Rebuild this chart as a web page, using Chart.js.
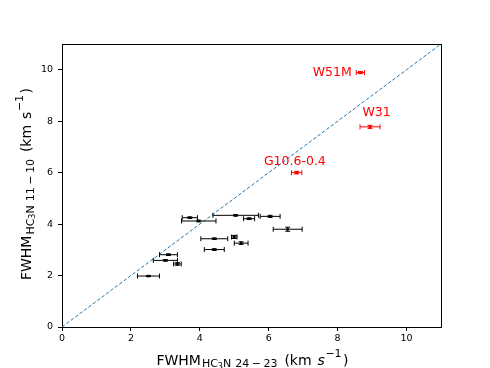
<!DOCTYPE html>
<html><head><meta charset="utf-8">
<script src="https://cdn.jsdelivr.net/npm/chart.js@4"></script>
<style>html,body{margin:0;padding:0;background:#fff}#wrap{width:490px;height:368px;position:relative}</style>
</head><body><div id="wrap"><canvas id="c" width="490" height="368"></canvas></div>
<script>
// Black sources
const xBlack = [3.71, 3.97, 5.04, 5.43, 6.04, 6.55, 4.42, 5.00, 5.20, 4.42, 3.09, 3.00, 3.35, 2.51];
const yBlack = [4.25, 4.12, 4.34, 4.21, 4.30, 3.80, 3.43, 3.50, 3.26, 3.01, 2.81, 2.59, 2.45, 1.98];
const xErrBlack = [0.22, 0.50, 0.66, 0.16, 0.29, 0.42, 0.39, 0.08, 0.20, 0.29, 0.26, 0.35, 0.11, 0.32];
const yErrBlack = [0.03, 0.03, 0.03, 0.03, 0.04, 0.08, 0.03, 0.06, 0.05, 0.03, 0.03, 0.03, 0.05, 0.02];
// Red (named) sources
const redNames = ['W51M', 'W31', 'G10.6-0.4'];
const xRed = [8.66, 8.94, 6.81];
const yRed = [9.89, 7.78, 6.00];
const xErrRed = [0.12, 0.29, 0.15];
const yErrRed = [0.04, 0.06, 0.05];
// label anchor points (data coords) and alignment
const labelX = [8.41, 8.72, 5.86];
const labelY = [9.76, 8.19, 6.28];
const labelAlign = ['right', 'left', 'left'];
// one-to-one line
const lineX = [0, 11];
const ticks = [0, 2, 4, 6, 8, 10];

const FONT = "'DejaVu Sans', sans-serif";

const blackData = xBlack.map((x, i) => ({x, y: yBlack[i], xe: xErrBlack[i], ye: yErrBlack[i]}));
const redData = xRed.map((x, i) => ({x, y: yRed[i], xe: xErrRed[i], ye: yErrRed[i]}));

function drawRich(ctx, parts, cx, cy, rot) {
  // parts: [text, sizePx, dyPx, italic, gapBefore]
  ctx.save();
  ctx.translate(cx, cy);
  if (rot) ctx.rotate(rot);
  let total = 0;
  parts.forEach(p => { ctx.font = (p[3] ? 'italic ' : '') + p[1] + 'px ' + FONT; total += ctx.measureText(p[0]).width + (p[4] || 0); });
  let x = -total / 2;
  ctx.fillStyle = '#000';
  ctx.textBaseline = 'alphabetic';
  ctx.textAlign = 'left';
  parts.forEach(p => {
    ctx.font = (p[3] ? 'italic ' : '') + p[1] + 'px ' + FONT;
    x += (p[4] || 0);
    ctx.fillText(p[0], x, p[2]);
    x += ctx.measureText(p[0]).width;
  });
  ctx.restore();
}

const errPlugin = {
  id: 'errbars',
  afterDatasetsDraw(chart) {
    const ctx = chart.ctx, xs = chart.scales.x, ys = chart.scales.y;
    const cap = 2.5;
    [[blackData, '#000'], [redData, '#ff0000']].forEach(([arr, col]) => {
      ctx.save();
      ctx.strokeStyle = col; ctx.lineWidth = 1;
      arr.forEach(d => {
        const x0 = xs.getPixelForValue(d.x - d.xe), x1 = xs.getPixelForValue(d.x + d.xe);
        const y = ys.getPixelForValue(d.y), x = xs.getPixelForValue(d.x);
        const y0 = ys.getPixelForValue(d.y - d.ye), y1 = ys.getPixelForValue(d.y + d.ye);
        ctx.beginPath();
        ctx.moveTo(x0, y); ctx.lineTo(x1, y);
        ctx.moveTo(x0, y - cap); ctx.lineTo(x0, y + cap);
        ctx.moveTo(x1, y - cap); ctx.lineTo(x1, y + cap);
        ctx.moveTo(x, y0); ctx.lineTo(x, y1);
        ctx.moveTo(x - cap, y0); ctx.lineTo(x + cap, y0);
        ctx.moveTo(x - cap, y1); ctx.lineTo(x + cap, y1);
        ctx.stroke();
      });
      ctx.restore();
    });
    // labels
    ctx.save();
    ctx.fillStyle = '#ff0000';
    ctx.font = '12.5px ' + FONT;
    ctx.textBaseline = 'alphabetic';
    redNames.forEach((n, i) => {
      ctx.textAlign = labelAlign[i];
      ctx.fillText(n, xs.getPixelForValue(labelX[i]), ys.getPixelForValue(labelY[i]));
    });
    ctx.restore();
  },
  afterDraw(chart) {
    const ctx = chart.ctx, a = chart.chartArea;
    ctx.save();
    ctx.strokeStyle = '#000'; ctx.lineWidth = 1;
    ctx.beginPath();
    ctx.moveTo(a.left, a.top + 0.5); ctx.lineTo(a.right + 0.5, a.top + 0.5);
    ctx.moveTo(a.right + 0.5, a.top); ctx.lineTo(a.right + 0.5, a.bottom);
    ctx.stroke();
    ctx.restore();
    const big = 14, sm = 11, sm2 = 8;
    drawRich(ctx, [
      ['FWHM', big, 0], ['HC', sm, 2.5, false, 1], ['3', sm2, 4], ['N', sm, 2.5],
      ['24', sm, 2.5, false, 4], ['\u2212', sm, 2.5, false, 2.5], ['23', sm, 2.5, false, 2.5],
      ['(', big, 0, false, 7], ['km', big, 0], ['s', big, 0, true, 6], ['\u22121', sm, -8, false, 0.5], [')', big, 0, false, 1.5]
    ], 252.5, 364.5, 0);
    drawRich(ctx, [
      ['FWHM', big, 0], ['HC', sm, 2.5, false, 1], ['3', sm2, 4], ['N', sm, 2.5],
      ['11', sm, 2.5, false, 4], ['\u2212', sm, 2.5, false, 2.5], ['10', sm, 2.5, false, 2.5],
      ['(', big, 0, false, 7], ['km', big, 0], ['s', big, 0, false, 6], ['\u22121', sm, -8, false, 0.5], [')', big, 0, false, 1.5]
    ], 31, 184, -Math.PI / 2);
  }
};

new Chart(document.getElementById('c'), {
  type: 'scatter',
  data: {
    datasets: [
      { data: blackData, backgroundColor: '#000', borderColor: '#000', pointStyle: 'rect', pointRadius: 1.8, borderWidth: 0, order: 1 },
      { data: redData, backgroundColor: '#ff0000', borderColor: '#ff0000', pointStyle: 'rect', pointRadius: 2, borderWidth: 0, order: 1 },
      { type: 'line', data: lineX.map(v => ({x: v, y: v})), borderColor: '#1f77b4', borderWidth: 1, borderDash: [3.5, 2], pointRadius: 0, fill: false, order: 2 }
    ]
  },
  options: {
    responsive: false, animation: false, devicePixelRatio: 1,
    layout: { padding: { left: 0, top: 44, right: 49, bottom: 0 } },
    plugins: { legend: { display: false }, tooltip: { enabled: false } },
    scales: {
      x: {
        type: 'linear', min: 0, max: 11,
        afterBuildTicks: s => { s.ticks = ticks.map(v => ({value: v})); },
        afterFit: s => { s.height = 41; },
        grid: { drawOnChartArea: false, tickLength: 4, color: '#000', tickWidth: 1 },
        border: { color: '#000', width: 1 },
        ticks: { color: '#000', font: { family: FONT, size: 9.5 }, padding: 2, maxRotation: 0 }
      },
      y: {
        type: 'linear', min: 0, max: 11,
        afterBuildTicks: s => { s.ticks = ticks.map(v => ({value: v})); },
        afterFit: s => { s.width = 62; },
        grid: { drawOnChartArea: false, tickLength: 4, color: '#000', tickWidth: 1 },
        border: { color: '#000', width: 1 },
        ticks: { color: '#000', font: { family: FONT, size: 9.5 }, padding: 5 }
      }
    }
  },
  plugins: [errPlugin]
});
</script></body></html>
